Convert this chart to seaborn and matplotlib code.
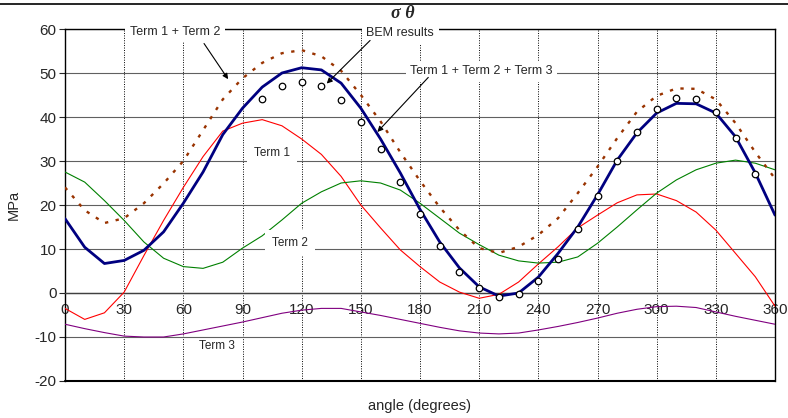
import numpy as np
import pandas as pd
import seaborn as sns
import matplotlib.pyplot as plt
from matplotlib.lines import Line2D

# angles (degrees) for the analytical curves
angle = list(range(0, 361, 10))

term1 = [-3.5, -6.0, -4.5, 0.2, 8.5, 16.5, 24.0, 31.0, 36.8, 38.6, 39.4, 38.0,
         35.0, 31.5, 26.5, 20.0, 14.8, 9.8, 6.0, 2.5, 0.2, -1.2, -0.3, 2.5,
         6.6, 10.5, 14.8, 17.7, 20.5, 22.3, 22.5, 21.0, 18.4, 14.3, 9.0, 3.7, -3.0]
term2 = [27.5, 25.2, 21.0, 16.5, 11.6, 7.9, 6.0, 5.6, 7.0, 10.2, 13.0, 16.6,
         20.4, 23.0, 25.0, 25.5, 25.0, 23.4, 20.4, 17.0, 13.6, 11.0, 8.6, 7.3,
         6.8, 7.0, 8.2, 11.3, 15.0, 18.9, 22.7, 25.7, 28.0, 29.5, 30.2, 29.5, 28.0]
term3 = [-7.1, -8.1, -9.0, -9.8, -10.0, -10.0, -9.3, -8.4, -7.5, -6.6, -5.6, -4.6,
         -3.9, -3.5, -3.5, -4.3, -5.1, -6.0, -6.9, -7.8, -8.6, -9.1, -9.3, -9.1,
         -8.4, -7.6, -6.7, -5.7, -4.6, -3.7, -3.1, -3.0, -3.3, -4.3, -5.3, -6.2, -7.1]
term12 = [24.0, 18.8, 15.9, 17.0, 20.4, 24.9, 30.0, 37.0, 44.0, 48.8, 52.3, 54.5,
          55.2, 53.8, 50.5, 45.0, 39.0, 32.0, 25.5, 19.5, 14.3, 10.2, 9.1, 10.5,
          13.2, 17.0, 22.7, 28.7, 35.2, 41.2, 44.8, 46.5, 46.4, 44.0, 38.6, 32.0, 26.0]
term123 = [16.9, 10.4, 6.7, 7.4, 9.7, 13.9, 20.4, 27.5, 36.0, 42.0, 46.8, 50.0,
           51.2, 50.7, 47.7, 42.0, 35.0, 27.3, 19.0, 11.6, 5.7, 1.4, -0.7, 0.0,
           3.6, 9.0, 15.0, 22.3, 30.2, 36.4, 40.9, 43.1, 43.0, 40.9, 35.5, 27.3, 17.7]

# BEM points
bem_angle = list(range(100, 351, 10))
bem = [44.1, 47.0, 48.0, 47.1, 43.8, 38.9, 32.7, 25.2, 17.9, 10.7, 4.8, 1.1, -0.9,
       -0.2, 2.7, 7.7, 14.5, 22.0, 30.0, 36.7, 41.8, 44.4, 44.2, 41.1, 35.2, 27.0]

xticks = list(range(0, 361, 30))
yticks = list(range(-20, 61, 10))

sns.set_style("white")
plt.rcParams['font.family'] = ['Liberation Sans', 'DejaVu Sans']
plt.rcParams['axes.unicode_minus'] = False

fig = plt.figure(figsize=(7.88, 4.18), dpi=100)
ax = fig.add_axes([65/788, 37/418, 710/788, 352/418])

sns.lineplot(x=angle, y=term1, ax=ax, color='#ff0000', lw=0.8, zorder=3)
sns.lineplot(x=angle, y=term2, ax=ax, color='#008000', lw=0.8, zorder=3)
sns.lineplot(x=angle, y=term3, ax=ax, color='#800080', lw=0.8, zorder=3)
sns.lineplot(x=angle, y=term12, ax=ax, color='#993300', lw=1.7,
             linestyle=(0, (1.4, 3.2)), zorder=3)
sns.lineplot(x=angle, y=term123, ax=ax, color='#000080', lw=2.0, zorder=3)
sns.scatterplot(x=bem_angle, y=bem, ax=ax, marker='o', s=22, facecolor='white',
                edgecolor='black', linewidth=0.9, zorder=4)

ax.set_xlim(0, 360)
ax.set_ylim(-20, 60)
ax.set_xticks(xticks)
ax.set_yticks(yticks)
ax.set_axisbelow(True)
ax.yaxis.grid(True, color='#606060', lw=0.8)
ax.xaxis.grid(True, color='black', lw=0.7, ls=(0, (1, 1.5)))

for s in ['left', 'right', 'top']:
    ax.spines[s].set_color('black')
    ax.spines[s].set_linewidth(1.0)
ax.spines['bottom'].set_position(('data', 0))
ax.spines['bottom'].set_color('#404040')
ax.spines['bottom'].set_linewidth(1.0)
ax.axhline(-20, color='black', lw=1.5, clip_on=False, zorder=2)

ax.tick_params(axis='x', length=0, pad=7, labelsize=11)
ax.tick_params(axis='y', left=True, length=4, width=0.8, direction='out',
               labelsize=11, pad=2)

ax.set_xlabel('angle (degrees)', fontsize=10.5)
ax.xaxis.set_label_coords(0.5, -0.05)
ax.set_ylabel('MPa', fontsize=10.5)
ax.yaxis.set_label_coords(-0.062, 0.5)

# labels and arrows
box = dict(boxstyle='square,pad=0.35', fc='white', ec='none')
ax.text(55.8, 59.4, 'Term 1 + Term 2', fontsize=9, ha='center', va='center',
        bbox=box, zorder=5)
ax.text(170, 59.0, 'BEM results', fontsize=9, ha='center', va='center',
        bbox=box, zorder=5)
ax.text(211, 50.4, 'Term 1 + Term 2 + Term 3', fontsize=9, ha='center',
        va='center', bbox=box, zorder=5)
ax.text(105, 31.8, 'Term 1', fontsize=8.5, ha='center', va='center',
        bbox=dict(boxstyle='square,pad=0.6', fc='white', ec='none'), zorder=5)
ax.text(114, 11.4, 'Term 2', fontsize=8.5, ha='center', va='center',
        bbox=dict(boxstyle='square,pad=0.6', fc='white', ec='none'), zorder=5)
ax.text(77, -12.1, 'Term 3', fontsize=8.5, ha='center', va='center', zorder=5)

arrow = dict(arrowstyle='-|>', color='black', lw=0.8, mutation_scale=8,
             shrinkA=0, shrinkB=0)
ax.annotate('', xy=(82.7, 48.6), xytext=(70.5, 56.7), arrowprops=arrow, zorder=6)
ax.annotate('', xy=(132.7, 47.6), xytext=(154.7, 57.4), arrowprops=arrow, zorder=6)
ax.annotate('', xy=(158.4, 36.6), xytext=(184.2, 49.0), arrowprops=arrow, zorder=6)

fig.text(403/788, 1 - 13/418, 'σ θ', ha='center', va='center', fontsize=13,
         fontweight='bold', fontstyle='italic', family='Liberation Serif')
fig.add_artist(Line2D([0, 1], [1 - 4/418, 1 - 4/418], color='black', lw=1.2,
                      transform=fig.transFigure))

fig.savefig('out.png', dpi=100)
